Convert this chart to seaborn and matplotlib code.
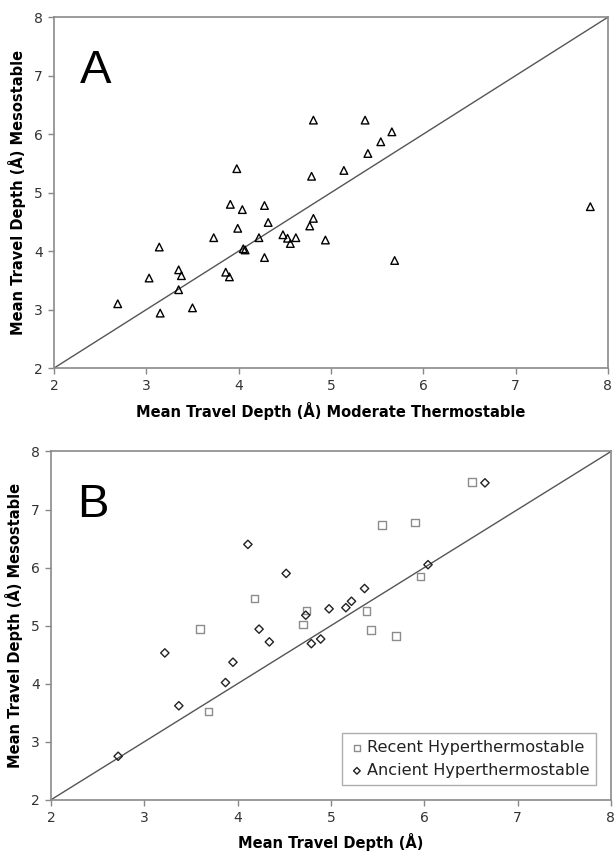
"""
Mean travel depth scatter: mesostable vs thermostable proteins (panels A and B)
"""

import pandas as pd
import seaborn as sns
import matplotlib.pyplot as plt

# Panel A: moderate thermostable (x) vs mesostable (y)
moderate_x = [2.69, 3.03, 3.14, 3.15, 3.35, 3.38, 3.35, 3.50, 3.73, 3.86,
              3.90, 3.91, 3.98, 3.99, 4.04, 4.05, 4.07, 4.22, 4.28, 4.28,
              4.32, 4.48, 4.53, 4.56, 4.62, 4.77, 4.81, 4.79, 4.81, 4.94,
              5.14, 5.37, 5.40, 5.54, 5.66, 5.69, 7.81]
moderate_y = [3.10, 3.54, 4.07, 2.94, 3.68, 3.58, 3.34, 3.03, 4.23, 3.64,
              3.56, 4.80, 5.41, 4.39, 4.71, 4.04, 4.02, 4.23, 4.78, 3.89,
              4.49, 4.28, 4.22, 4.13, 4.23, 4.43, 4.56, 5.28, 6.24, 4.19,
              5.38, 6.24, 5.67, 5.87, 6.04, 3.84, 4.76]

# Panel B: hyperthermostable (x) vs mesostable (y)
recent_x = [3.60, 3.69, 4.18, 4.70, 4.74, 5.38, 5.43, 5.55, 5.70, 5.90,
            5.96, 6.51]
recent_y = [4.94, 3.52, 5.47, 5.02, 5.26, 5.25, 4.93, 6.73, 4.82, 6.78,
            5.85, 7.47]
ancient_x = [2.72, 3.22, 3.37, 3.87, 3.95, 4.11, 4.23, 4.34, 4.52, 4.73,
             4.79, 4.89, 4.98, 5.16, 5.22, 5.36, 6.04, 6.65]
ancient_y = [2.75, 4.53, 3.62, 4.02, 4.37, 6.40, 4.94, 4.72, 5.90, 5.18,
             4.69, 4.77, 5.29, 5.31, 5.42, 5.64, 6.05, 7.46]

limits = [2, 8]
ticks = [2, 3, 4, 5, 6, 7, 8]

df_a = pd.DataFrame({"x": moderate_x, "y": moderate_y})
df_recent = pd.DataFrame({"x": recent_x, "y": recent_y})
df_ancient = pd.DataFrame({"x": ancient_x, "y": ancient_y})

sns.set_theme(style="white")
plt.rcParams['font.family'] = ['DejaVu Sans']

fig = plt.figure(figsize=(6.14, 8.6), dpi=100)
ax_a = fig.add_axes([0.088, 0.572, 0.902, 0.408])
ax_b = fig.add_axes([0.083, 0.070, 0.912, 0.405])


def style_axes(ax, xlabel, letter, letter_y):
    ax.plot(limits, limits, color="#555555", lw=1.0, zorder=1)
    ax.set_xlim(limits)
    ax.set_ylim(limits)
    ax.set_xticks(ticks)
    ax.set_yticks(ticks)
    ax.tick_params(axis="both", direction="out", length=4, width=1,
                   colors="#888888", labelcolor="#333333", labelsize=10,
                   bottom=True, left=True, pad=4)
    for sp in ax.spines.values():
        sp.set_color("#8a8a8a")
        sp.set_linewidth(1.2)
    ax.set_xlabel(xlabel, fontsize=10.5, fontweight="bold", labelpad=6,
                  color="black")
    ax.set_ylabel("Mean Travel Depth (Å) Mesostable", fontsize=10.5,
                  fontweight="bold", labelpad=6, color="black")
    ax.text(2.28, letter_y, letter, fontsize=34, family="Liberation Sans",
            va="top", ha="left", color="black")


# Panel A
sns.scatterplot(data=df_a, x="x", y="y", marker="^", s=30,
                facecolor="none", edgecolor="black", linewidth=1.0,
                ax=ax_a, zorder=3)
style_axes(ax_a, "Mean Travel Depth (Å) Moderate Thermostable", "A", 7.45)

# Panel B
sns.scatterplot(data=df_recent, x="x", y="y", marker="s", s=30,
                facecolor="none", edgecolor="#8c8c8c", linewidth=1.0,
                ax=ax_b, zorder=3, label="Recent Hyperthermostable")
sns.scatterplot(data=df_ancient, x="x", y="y", marker="D", s=18,
                facecolor="none", edgecolor="#222222", linewidth=1.0,
                ax=ax_b, zorder=3, label="Ancient Hyperthermostable")
style_axes(ax_b, "Mean Travel Depth (Å)", "B", 7.45)

leg = ax_b.legend(loc="lower right", fontsize=11.6, frameon=True,
                  fancybox=False, edgecolor="#999999", handletextpad=0.1,
                  handlelength=1.0, borderpad=0.45, labelspacing=0.5,
                  borderaxespad=0.9, markerscale=0.8)
leg.get_frame().set_linewidth(1.0)
for t in leg.get_texts():
    t.set_color("#222222")

fig.savefig("out.png", dpi=100)
